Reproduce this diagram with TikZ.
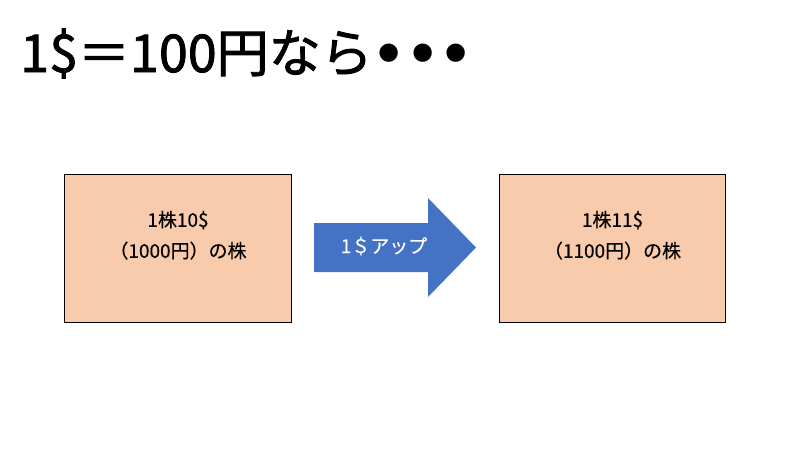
\documentclass[tikz,border=0pt]{standalone}
\usepackage{fontspec}
\setmainfont{Noto Sans CJK JP}[UprightFeatures={FakeBold=0.3}]
\newfontfamily\titlefont{Noto Sans CJK JP}[UprightFeatures={FakeBold=1.6}]
\newfontfamily\dotfont{DejaVu Sans}
\usetikzlibrary{positioning}
\definecolor{peach}{HTML}{F8CBAD}
\definecolor{officeblue}{HTML}{4472C4}

\begin{document}
\begin{tikzpicture}[x=0.025cm, y=-0.025cm,
	stock/.style={rectangle, draw=black, line width=0.7pt, fill=peach, minimum width=5.65cm, minimum height=3.675cm},
	stocktext/.style={text centered, align=center, inner sep=0pt, font=\fontsize{13.5}{22}\selectfont}]
	\useasboundingbox (0,0) rectangle (800,450);
	\node[anchor=base west, inner sep=0pt, font=\fontsize{37}{40}\titlefont] (title) at (20,72) {1\$＝100円なら{\dotfont\bfseries •••}};
	\node[stock] (before) at (178,248.5) {};
	\node[stock] (after) at (612.5,248.5) {};
	\node[stocktext] (beforetext) at ([yshift=0.33cm]before.center) {1株10\$\\（1000円）の株};
	\node[stocktext] (aftertext) at ([yshift=0.33cm]after.center) {1株11\$\\（1100円）の株};
	\fill[officeblue] (314,223) -- (428,223) -- (428,198) -- (476,247.5) -- (428,297) -- (428,272) -- (314,272) -- cycle;
	\node[text=white, inner sep=0pt, font=\fontsize{13.5}{16}\selectfont] (up) at (384,246) {1＄アップ};
\end{tikzpicture}
\end{document}
